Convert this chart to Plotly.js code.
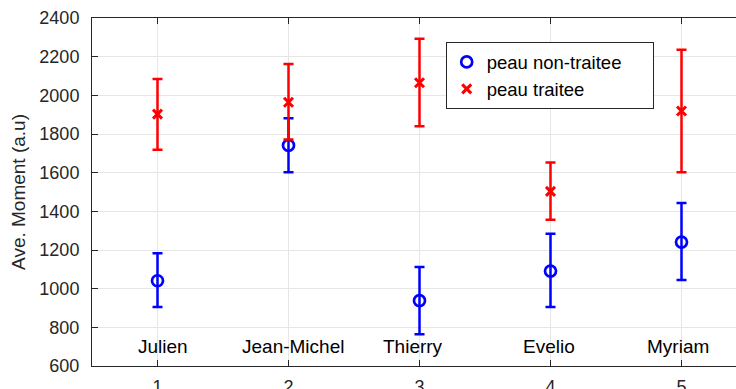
<!DOCTYPE html>
<html>
<head>
<meta charset="utf-8">
<script src="https://cdn.plot.ly/plotly-3.0.1.min.js"></script>
<style>
html, body { margin: 0; padding: 0; overflow: hidden; background: #fff; }
#chart { width: 760px; height: 389px; }
</style>
</head>
<body>
<div id="chart"></div>
<script>
// Data
const subjects = ["Julien", "Jean-Michel", "Thierry", "Evelio", "Myriam"];
const xIndex = [1, 2, 3, 4, 5];

const untreatedMean  = [1041, 1741, 938, 1091, 1241];
const untreatedPlus  = [142, 140, 174, 193, 202];
const untreatedMinus = [136, 139, 174, 186, 196];

const treatedMean  = [1903, 1964, 2065, 1503, 1919];
const treatedPlus  = [181, 198, 228, 150, 317];
const treatedMinus = [184, 192, 225, 146, 317];

const seriesNames = ["peau non-traitee", "peau traitee"];
const yTicks = [600, 800, 1000, 1200, 1400, 1600, 1800, 2000, 2200, 2400];
const xTicks = [1, 2, 3, 4, 5];

const FONT = "Liberation Sans, Arial, Helvetica, sans-serif";
const AX = "#262626";
const PAD = "\u00a0\u00a0\u00a0\u00a0\u00a0";

const traces = [
  {
    x: xIndex, y: untreatedMean, name: seriesNames[0] + PAD, type: "scatter", mode: "markers",
    marker: { symbol: "circle-open", size: 11, color: "#0000ff", line: { width: 2.7, color: "#0000ff" } },
    error_y: { type: "data", symmetric: false, array: untreatedPlus, arrayminus: untreatedMinus,
               color: "#0000ff", thickness: 2.5, width: 5 }
  },
  {
    x: xIndex, y: treatedMean, name: seriesNames[1] + PAD, type: "scatter", mode: "markers",
    marker: { symbol: "x-thin-open", size: 9, color: "#ff0000", line: { width: 3, color: "#ff0000" } },
    error_y: { type: "data", symmetric: false, array: treatedPlus, arrayminus: treatedMinus,
               color: "#ff0000", thickness: 2.5, width: 5 }
  }
];

const labelShift = [5, 4, -7, -2, -4];
const annotations = subjects.map((s, i) => ({
  x: xIndex[i], y: 700, xref: "x", yref: "y", text: s, showarrow: false,
  xanchor: "center", yanchor: "middle", xshift: labelShift[i],
  font: { family: FONT, size: 19, color: "#000" }
}));

const layout = {
  width: 760, height: 389,
  margin: { l: 92, r: 13, t: 18, b: 23, pad: 0 },
  paper_bgcolor: "#fff", plot_bgcolor: "#fff",
  font: { family: FONT, size: 18, color: AX },
  showlegend: true,
  legend: {
    x: 0.54, y: 0.93, xanchor: "left", yanchor: "top",
    bgcolor: "#fff", bordercolor: AX, borderwidth: 1,
    font: { family: FONT, size: 18.5, color: "#000" }
  },
  xaxis: {
    range: [0.5, 5.5], tickmode: "array", tickvals: xTicks, ticktext: xTicks.map(String),
    ticks: "inside", ticklen: 6, tickcolor: AX, showline: true, linecolor: AX, linewidth: 1,
    mirror: "ticks", showgrid: true, gridcolor: "#e6e6e6", gridwidth: 1, zeroline: false,
    tickfont: { family: FONT, size: 18, color: AX }, ticklabelstandoff: 4
  },
  yaxis: {
    range: [600, 2400], tickmode: "array", tickvals: yTicks, ticktext: yTicks.map(String),
    ticks: "inside", ticklen: 6, tickcolor: AX, showline: true, linecolor: AX, linewidth: 1,
    mirror: "ticks", showgrid: true, gridcolor: "#e6e6e6", gridwidth: 1, zeroline: false,
    tickfont: { family: FONT, size: 18, color: AX }, ticklabelstandoff: 8,
    title: { text: "Ave. Moment (a.u)", font: { family: FONT, size: 19, color: AX }, standoff: 8 }
  },
  annotations: annotations
};

Plotly.newPlot("chart", traces, layout, { displayModeBar: false, staticPlot: true });
</script>
</body>
</html>
